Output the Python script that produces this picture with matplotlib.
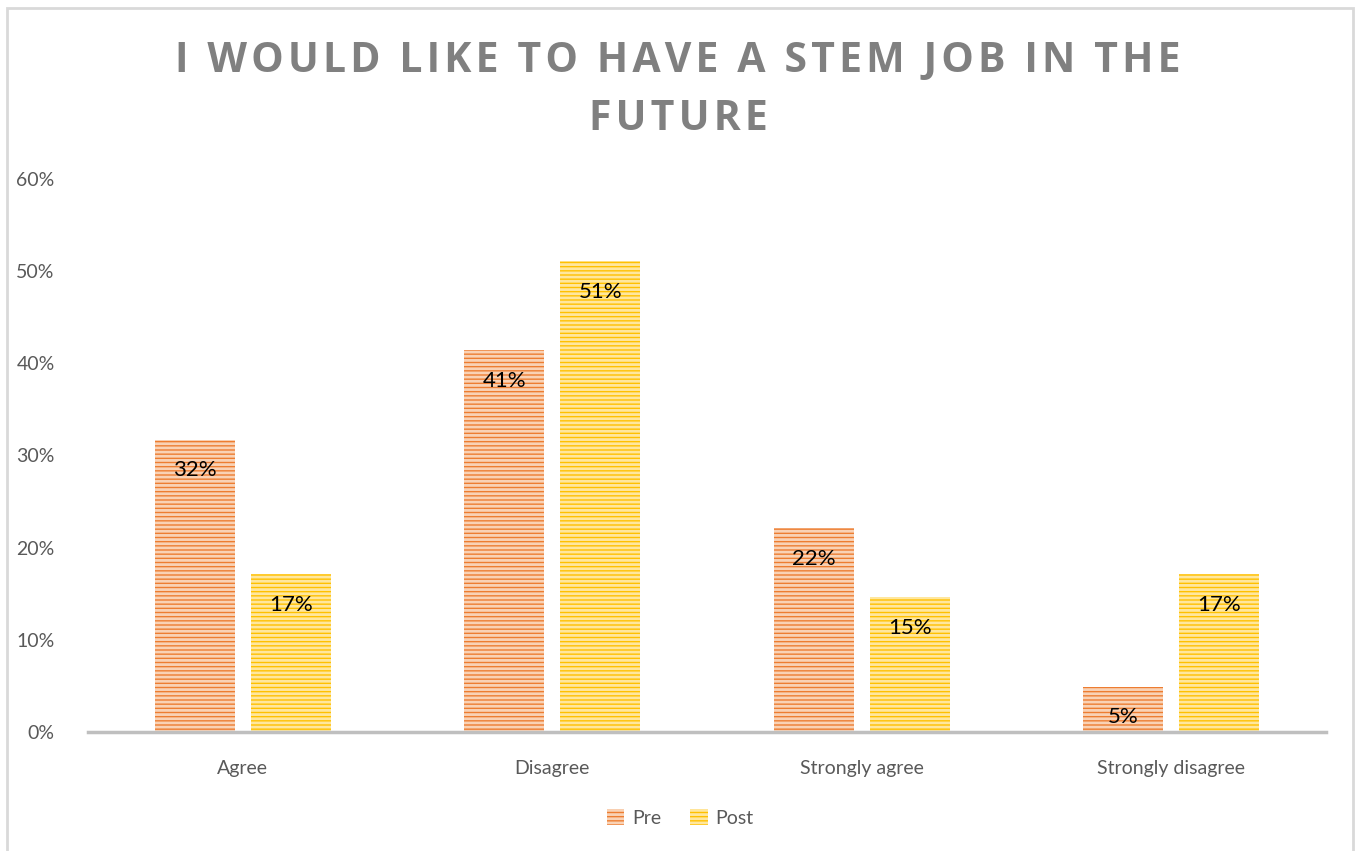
import numpy as np
import matplotlib.pyplot as plt
import matplotlib.patches as mpatches

categories = ['Agree', 'Disagree', 'Strongly agree', 'Strongly disagree']
pre_values = [31.7, 41.4, 22.1, 4.9]
post_values = [17.1, 51.1, 14.6, 17.1]
series_names = ['Pre', 'Post']
yticks = [0, 10, 20, 30, 40, 50, 60]

title_lines = ['I WOULD LIKE TO HAVE A STEM JOB IN THE', 'FUTURE']

pre_color = '#ED7D31'
pre_stripe = '#F9D2B5'
post_color = '#FFC000'
post_stripe = '#FFE79E'

plt.rcParams['font.family'] = ['Lato', 'DejaVu Sans']
plt.rcParams['hatch.linewidth'] = 2.0

fig = plt.figure(figsize=(13.56, 8.51), dpi=100)
ax = fig.add_axes([88 / 1356, 1 - 732 / 851, (1326 - 88) / 1356, (732 - 179) / 851])

x = np.arange(len(categories))
w = 0.258
off = 0.155

bars_pre = ax.bar(x - off, pre_values, w, color=pre_color, edgecolor=pre_stripe,
                  hatch='----', linewidth=0, label=series_names[0], zorder=2)
bars_post = ax.bar(x + off, post_values, w, color=post_color, edgecolor=post_stripe,
                   hatch='----', linewidth=0, label=series_names[1], zorder=2)

for bars, vals in ((bars_pre, pre_values), (bars_post, post_values)):
    for b, v in zip(bars, vals):
        ax.annotate('%d%%' % round(v), (b.get_x() + b.get_width() / 2, v),
                    xytext=(0, -22), textcoords='offset points',
                    ha='center', va='center', fontsize=16, color='black')

ax.set_xlim(-0.5, len(categories) - 0.5)
ax.set_ylim(0, 60)
ax.set_yticks(yticks)
ax.set_yticklabels(['%d%%' % t for t in yticks])
ax.set_xticks(x)
ax.set_xticklabels(categories)
ax.tick_params(axis='y', length=0, pad=24, labelsize=14, labelcolor='#595959')
ax.tick_params(axis='x', length=0, pad=20, labelsize=14, labelcolor='#595959')

for s in ['top', 'right', 'left']:
    ax.spines[s].set_visible(False)
ax.spines['bottom'].set_color('#BFBFBF')
ax.spines['bottom'].set_linewidth(2.5)
ax.spines['bottom'].set_zorder(3)

# spaced-out title like the Excel chart title
hair = '\u200a'
for line, ypx in zip(title_lines, [61, 120]):
    fig.text(0.5, 1 - ypx / 851, hair.join(line), ha='center', va='center', fontsize=29.5,
             fontweight='bold', color='#808080', family=['Open Sans', 'DejaVu Sans'])

handles = [mpatches.Patch(facecolor=pre_color, edgecolor=pre_stripe, hatch='----', linewidth=0),
           mpatches.Patch(facecolor=post_color, edgecolor=post_stripe, hatch='----', linewidth=0)]
fig.legend(handles, series_names, loc='center', bbox_to_anchor=(680 / 1356, 1 - 818 / 851),
           ncol=2, frameon=False, fontsize=14, labelcolor='#595959',
           handlelength=0.9, handleheight=0.9, handletextpad=0.4, columnspacing=1.5)

# outer border
fig.patches.append(mpatches.Rectangle((7 / 1356, -0.01), 1 - 10 / 1356, 1.01 - 8 / 851,
                                      transform=fig.transFigure, fill=False,
                                      edgecolor='#D9D9D9', linewidth=2))

fig.savefig('out.png', dpi=100)
